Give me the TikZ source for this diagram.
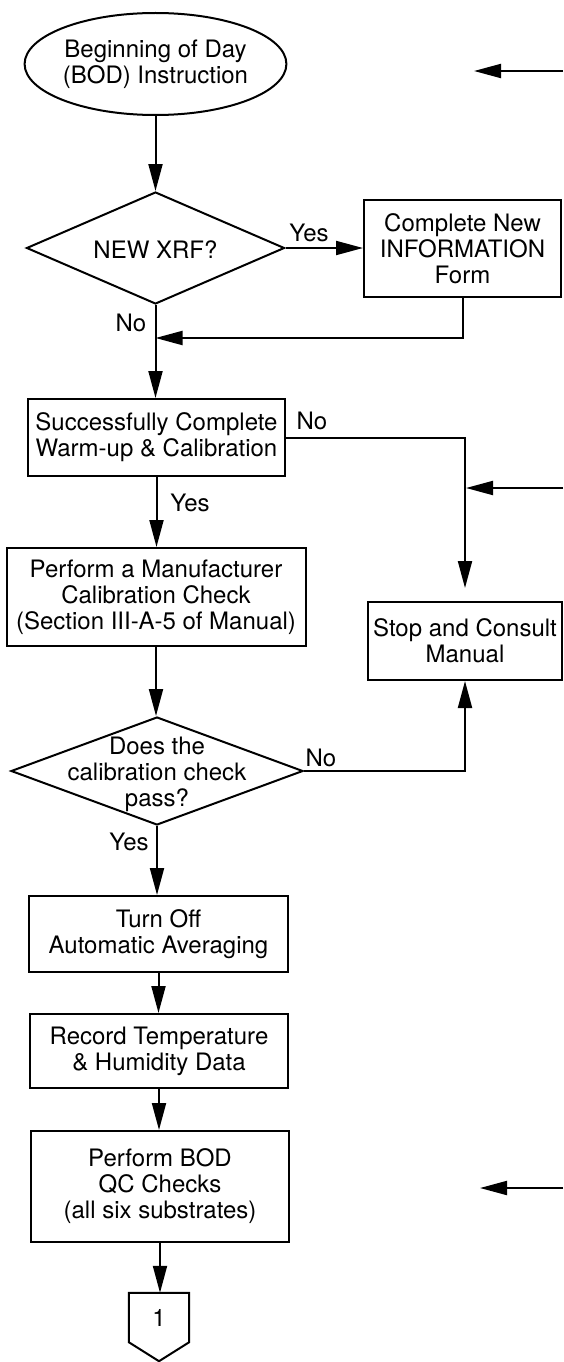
\documentclass[tikz,border=0pt]{standalone}
\usepackage{fontspec}
\setmainfont{TeX Gyre Heros}
\usetikzlibrary{arrows.meta,shapes.geometric,calc}
\begin{document}
\begin{tikzpicture}[x=1pt,y=-1pt,
  every node/.style={font=\fontsize{24}{26}\selectfont, align=center},
  ln/.style={line width=2pt},
  arr/.style={line width=2pt, -{Triangle[length=27pt,width=14pt]}},
  box/.style={draw, line width=2pt, rectangle, inner sep=0pt},
  dia/.style={draw, line width=2pt, diamond, inner sep=0pt},
  lbl/.style={inner sep=0pt}
]
\useasboundingbox (0,0) rectangle (563,1362);

% nodes
\node[draw, ellipse, line width=2pt, minimum width=257pt, minimum height=102pt, inner sep=0pt] (start) at (155.5,64) {Beginning of Day\\(BOD) Instruction};

\node[dia, minimum width=258pt, minimum height=112pt] (d1) at (155.5,248) {};
\node (d1t) at (155.5,250) {NEW XRF?};

\node[box, minimum width=197pt, minimum height=97pt] (info) at (462.5,248.5) {Complete New\\INFORMATION\\Form};

\node[box, minimum width=257pt, minimum height=77pt] (warm) at (156.5,437.5) {Successfully Complete\\Warm-up \& Calibration};

\node[box, minimum width=299pt, minimum height=98pt] (manuf) at (156,597) {Perform a Manufacturer\\Calibration Check\\(Section III-A-5 of Manual)};

\node[box, minimum width=194pt, minimum height=78pt] (stop) at (465,641) {Stop and Consult\\Manual};

\node[dia, minimum width=292pt, minimum height=108pt] (d2) at (157,771) {};
\node (d2t) at (157,774) {Does the\\calibration check\\pass?};

\node[box, minimum width=259pt, minimum height=76pt] (turnoff) at (158.5,934) {Turn Off\\Automatic Averaging};

\node[box, minimum width=258pt, minimum height=74pt] (record) at (159,1051) {Record Temperature\\\& Humidity Data};

\node[box, minimum width=258pt, minimum height=111pt] (bod) at (160,1186.5) {Perform BOD\\QC Checks\\(all six substrates)};

\node[inner sep=0pt, minimum width=60pt, minimum height=49pt] (conn) at (159,1317.5) {1};
\draw[ln, line join=miter] (conn.north west) -- (conn.north east) -- (conn.south east) -- ($(conn.south)+(0,19)$) -- (conn.south west) -- cycle;

% labels
\node[lbl] (l1) at (309,233) {Yes};
\node[lbl] (l2) at (131,323) {No};
\node[lbl] (l3) at (312,421) {No};
\node[lbl] (l4) at (190,503) {Yes};
\node[lbl] (l5) at (321,758) {No};
\node[lbl] (l6) at (129,842) {Yes};

% connectors
\coordinate (j1) at (155.5,338);
\draw[arr] (start) -- (d1.north);
\draw[arr] (d1.east) -- (d1.east -| info.west);
\draw[arr] (info.south) |- (j1);
\draw[arr] (d1.south) -- (d1.south |- warm.north);
\draw[arr, shorten >=13pt] (warm.east) -| (stop.north);
\draw[arr] (warm.south) -- (warm.south |- manuf.north);
\draw[arr] (manuf.south) -- (manuf.south |- d2.north);
\draw[arr] (d2.east) -| (stop.south);
\draw[arr] (d2.south) -- (d2.south |- turnoff.north);
\draw[arr] (turnoff.south) -- (turnoff.south |- record.north);
\draw[arr] (record.south) -- (record.south |- bod.north);
\draw[arr] (bod.south) -- (bod.south |- conn.north);

% incoming arrows from the right edge
\coordinate (r1a) at (563,71);
\coordinate (r1b) at (474,71);
\coordinate (r2a) at (563,488);
\coordinate (r2b) at (466,488);
\coordinate (r3a) at (563,1188);
\coordinate (r3b) at (480,1188);
\draw[arr] (r1a) -- (r1b);
\draw[arr] (r2a) -- (r2b);
\draw[arr] (r3a) -- (r3b);
\end{tikzpicture}
\end{document}
